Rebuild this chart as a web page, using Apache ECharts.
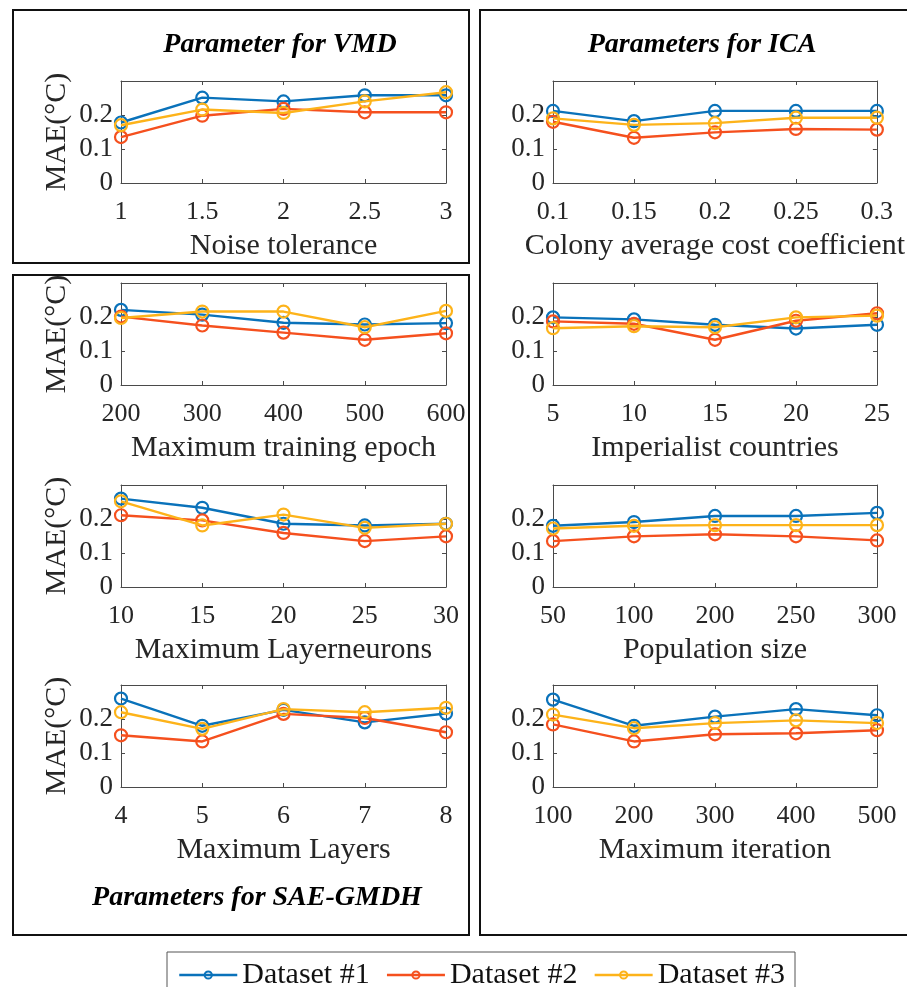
<!DOCTYPE html>
<html>
<head>
<meta charset="utf-8">
<script src="https://cdn.jsdelivr.net/npm/echarts@6/dist/echarts.min.js"></script>
<style>html,body{margin:0;padding:0;background:#fff;}#c{width:907px;height:987px;}</style>
</head>
<body>
<div id="c"></div>
<script>
// ---- Data ----
const seriesNames = ['Dataset #1', 'Dataset #2', 'Dataset #3'];
const yTicks = [0, 0.1, 0.2];

const xNoise = ['1', '1.5', '2', '2.5', '3'];
const noiseD1 = [0.178, 0.251, 0.240, 0.258, 0.258];
const noiseD2 = [0.135, 0.198, 0.218, 0.208, 0.208];
const noiseD3 = [0.170, 0.216, 0.206, 0.240, 0.267];

const xColony = ['0.1', '0.15', '0.2', '0.25', '0.3'];
const colonyD1 = [0.212, 0.182, 0.212, 0.212, 0.212];
const colonyD2 = [0.180, 0.133, 0.149, 0.159, 0.157];
const colonyD3 = [0.190, 0.171, 0.176, 0.192, 0.192];

const xEpoch = ['200', '300', '400', '500', '600'];
const epochD1 = [0.221, 0.207, 0.183, 0.178, 0.182];
const epochD2 = [0.201, 0.175, 0.154, 0.133, 0.152];
const epochD3 = [0.197, 0.216, 0.216, 0.170, 0.218];

const xImperial = ['5', '10', '15', '20', '25'];
const imperialD1 = [0.199, 0.193, 0.177, 0.166, 0.177];
const imperialD2 = [0.187, 0.180, 0.133, 0.189, 0.211];
const imperialD3 = [0.167, 0.173, 0.170, 0.199, 0.204];

const xNeurons = ['10', '15', '20', '25', '30'];
const neuronsD1 = [0.260, 0.233, 0.186, 0.181, 0.186];
const neuronsD2 = [0.211, 0.196, 0.159, 0.135, 0.149];
const neuronsD3 = [0.252, 0.181, 0.213, 0.174, 0.186];

const xPopulation = ['50', '100', '200', '250', '300'];
const populationD1 = [0.180, 0.191, 0.209, 0.209, 0.218];
const populationD2 = [0.135, 0.149, 0.155, 0.149, 0.137];
const populationD3 = [0.172, 0.180, 0.182, 0.182, 0.182];

const xLayers = ['4', '5', '6', '7', '8'];
const layersD1 = [0.260, 0.180, 0.227, 0.190, 0.216];
const layersD2 = [0.152, 0.134, 0.215, 0.203, 0.161];
const layersD3 = [0.220, 0.171, 0.229, 0.220, 0.233];

const xIteration = ['100', '200', '300', '400', '500'];
const iterationD1 = [0.257, 0.180, 0.207, 0.229, 0.211];
const iterationD2 = [0.184, 0.134, 0.155, 0.158, 0.167];
const iterationD3 = [0.213, 0.173, 0.188, 0.196, 0.188];

// ---- Panels ----
const panels = [
  {x: xNoise, d: [noiseD1, noiseD2, noiseD3], xName: 'Noise tolerance', col: 0, row: 0},
  {x: xColony, d: [colonyD1, colonyD2, colonyD3], xName: 'Colony average cost coefficient', col: 1, row: 0},
  {x: xEpoch, d: [epochD1, epochD2, epochD3], xName: 'Maximum training epoch', col: 0, row: 1},
  {x: xImperial, d: [imperialD1, imperialD2, imperialD3], xName: 'Imperialist countries', col: 1, row: 1},
  {x: xNeurons, d: [neuronsD1, neuronsD2, neuronsD3], xName: 'Maximum Layerneurons', col: 0, row: 2},
  {x: xPopulation, d: [populationD1, populationD2, populationD3], xName: 'Population size', col: 1, row: 2},
  {x: xLayers, d: [layersD1, layersD2, layersD3], xName: 'Maximum Layers', col: 0, row: 3},
  {x: xIteration, d: [iterationD1, iterationD2, iterationD3], xName: 'Maximum iteration', col: 1, row: 3}
];

const colors = ['#0A72BA', '#F5501E', '#FDB31A'];
const FONT = "'Liberation Serif', 'Times New Roman', serif";
const colLeft = [121, 553];
const colWidth = [325, 324];
const rowTop = [81, 283, 485, 685];
const gridH = 102;
const axisColor = '#4a4a4a';
const textColor = '#262626';

const grids = [], xAxes = [], yAxes = [], series = [];
panels.forEach((p, i) => {
  grids.push({left: colLeft[p.col], top: rowTop[p.row], width: colWidth[p.col], height: gridH, containLabel: false});
  xAxes.push({
    gridIndex: i, type: 'category', data: p.x, boundaryGap: false, position: 'bottom',
    axisLine: {onZero: false, lineStyle: {color: axisColor, width: 1}},
    axisTick: {inside: true, length: 4, lineStyle: {color: axisColor}},
    axisLabel: {fontFamily: FONT, fontSize: 26, color: textColor, margin: 16},
    splitLine: {show: false},
    name: p.xName, nameLocation: 'middle', nameGap: 48,
    nameTextStyle: {fontFamily: FONT, fontSize: 30, color: textColor}
  });
  xAxes.push({
    gridIndex: i, type: 'category', data: p.x, boundaryGap: false, position: 'top',
    axisLine: {onZero: false, lineStyle: {color: axisColor, width: 1}},
    axisTick: {inside: true, length: 4, lineStyle: {color: axisColor}},
    axisLabel: {show: false}, splitLine: {show: false}
  });
  yAxes.push({
    gridIndex: i, type: 'value', min: 0, max: 0.3, interval: 0.1, position: 'left',
    axisLine: {show: true, onZero: false, lineStyle: {color: axisColor, width: 1}},
    axisTick: {show: true, inside: true, length: 4, lineStyle: {color: axisColor}},
    axisLabel: {
      fontFamily: FONT, fontSize: 27, color: textColor, margin: 8, padding: [7, 0, 0, 0],
      formatter: v => {
        const m = yTicks.find(t => Math.abs(t - v) < 1e-6);
        return m === undefined ? '' : String(m);
      }
    },
    splitLine: {show: false},
    name: p.col === 0 ? 'MAE(°C)' : '', nameLocation: 'middle', nameGap: 49, nameRotate: 90,
    nameTextStyle: {fontFamily: FONT, fontSize: 30, color: textColor}
  });
  yAxes.push({
    gridIndex: i, type: 'value', min: 0, max: 0.3, interval: 0.1, position: 'right',
    axisLine: {show: true, onZero: false, lineStyle: {color: axisColor, width: 1}},
    axisTick: {show: true, inside: true, length: 4, lineStyle: {color: axisColor}},
    axisLabel: {show: false}, splitLine: {show: false}
  });
  p.d.forEach((vals, k) => {
    series.push({
      name: seriesNames[k], type: 'line', xAxisIndex: 2 * i, yAxisIndex: 2 * i,
      data: vals, symbol: 'circle', symbolSize: 12, showSymbol: true,
      lineStyle: {color: colors[k], width: 2.4},
      itemStyle: {color: 'rgba(255,255,255,0)', borderColor: colors[k], borderWidth: 2.2},
      emphasis: {disabled: true}, animation: false, z: 3 + k
    });
  });
});

const titleStyle = {fontFamily: FONT, fontSize: 28, fontWeight: 'bold', fontStyle: 'italic', color: '#000'};

const option = {
  backgroundColor: '#fff',
  animation: false,
  title: [
    {text: 'Parameter for VMD', left: 280, top: 31, textAlign: 'center', padding: 0, textStyle: titleStyle},
    {text: 'Parameters for ICA', left: 702, top: 31, textAlign: 'center', padding: 0, textStyle: titleStyle},
    {text: 'Parameters for SAE-GMDH', left: 257, top: 884, textAlign: 'center', padding: 0, textStyle: titleStyle}
  ],
  legend: {
    data: seriesNames, left: 173, top: 955, orient: 'horizontal',
    itemWidth: 58, itemHeight: 9, itemGap: 16,
    lineStyle: {width: 2.5},
    itemStyle: {borderWidth: 2},
    textStyle: {fontFamily: FONT, fontSize: 30, color: '#111'},
    selectedMode: false
  },
  grid: grids,
  xAxis: xAxes,
  yAxis: yAxes,
  series: series,
  graphic: [
    {type: 'rect', shape: {x: 13, y: 10, width: 456, height: 253}, style: {fill: 'none', stroke: '#111', lineWidth: 2}, silent: true},
    {type: 'rect', shape: {x: 13, y: 275, width: 456, height: 660}, style: {fill: 'none', stroke: '#111', lineWidth: 2}, silent: true},
    {type: 'rect', shape: {x: 480, y: 10, width: 440, height: 925}, style: {fill: 'none', stroke: '#111', lineWidth: 2}, silent: true},
    {type: 'rect', shape: {x: 167, y: 952, width: 628, height: 60}, style: {fill: 'none', stroke: '#555', lineWidth: 1}, silent: true}
  ]
};

const chart = echarts.init(document.getElementById('c'), null, {renderer: 'canvas'});
chart.setOption(option);
</script>
</body>
</html>
